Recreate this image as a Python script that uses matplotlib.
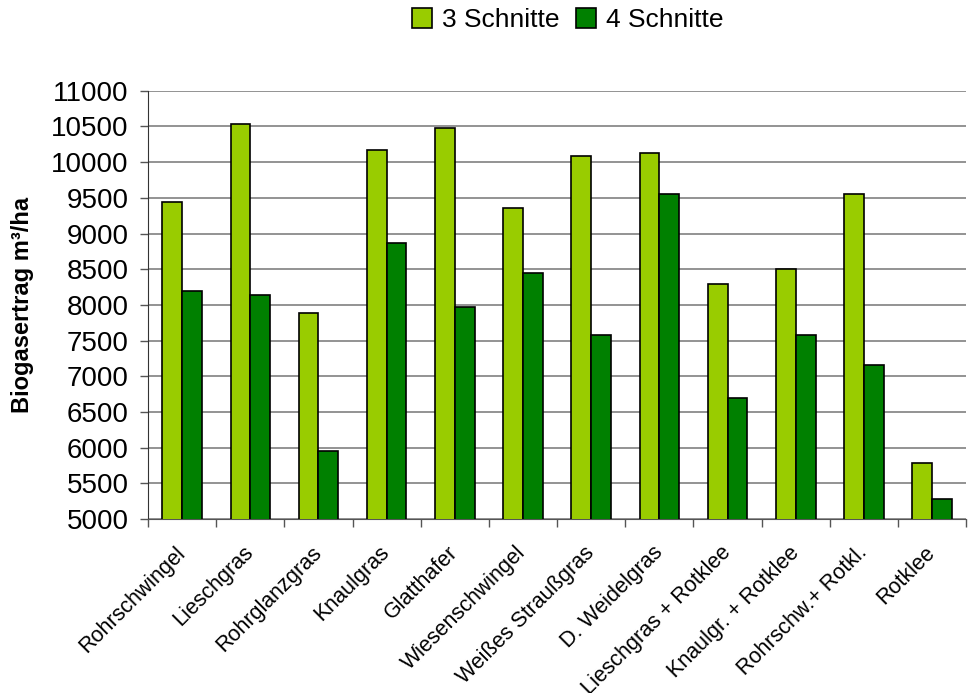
import matplotlib.pyplot as plt
import numpy as np

plt.rcParams['font.family'] = ['Liberation Sans', 'DejaVu Sans']

categories = ["Rohrschwingel", "Lieschgras", "Rohrglanzgras", "Knaulgras", "Glatthafer",
              "Wiesenschwingel", "Weißes Straußgras", "D. Weidelgras", "Lieschgras + Rotklee",
              "Knaulgr. + Rotklee", "Rohrschw.+ Rotkl.", "Rotklee"]
schnitte3 = [9440, 10530, 7890, 10170, 10480, 9360, 10080, 10130, 8290, 8510, 9550, 5790]
schnitte4 = [8200, 8140, 5950, 8870, 7970, 8450, 7580, 9550, 6690, 7580, 7160, 5280]

def main():
    fig = plt.figure(figsize=(9.74, 6.93), dpi=100)
    ax = fig.add_axes([0.152, 0.251, 0.840, 0.618])
    x = np.arange(len(categories))
    w = 0.29
    ax.bar(x - w / 2, schnitte3, w, color='#99cc00', edgecolor='black', linewidth=1.2,
           label='3 Schnitte', zorder=3)
    ax.bar(x + w / 2, schnitte4, w, color='#008000', edgecolor='black', linewidth=1.2,
           label='4 Schnitte', zorder=3)
    ax.set_ylim(5000, 11000)
    ax.set_xlim(-0.5, len(categories) - 0.5)
    ax.set_yticks(range(5000, 11001, 500))
    ax.yaxis.grid(True, color='#808080', linewidth=1.2, zorder=0)
    ax.tick_params(axis='y', labelsize=20, length=6, width=1, color='#555555', pad=8)
    ax.set_xticks(x)
    ax.set_xticklabels(categories, rotation=45, ha='right', va='center',
                       rotation_mode='anchor', fontsize=15.5)
    ax.set_xticks(np.arange(-0.5, len(categories), 1), minor=True)
    ax.tick_params(axis='x', which='major', length=0, pad=22)
    ax.tick_params(axis='x', which='minor', length=6, width=1, color='#555555')
    for s in ['top', 'right']:
        ax.spines[s].set_visible(False)
    ax.spines['left'].set_color('#333333')
    ax.spines['bottom'].set_color('#555555')
    ax.set_ylabel('Biogasertrag m³/ha', fontsize=17, fontweight='bold', labelpad=12)
    fig.legend(loc='center', bbox_to_anchor=(0.583, 0.971), ncol=2, frameon=False,
               fontsize=19, handlelength=0.75, handleheight=0.75, handletextpad=0.4,
               columnspacing=0.6, borderpad=0)
    plt.savefig('out.png')

if __name__ == "__main__":
    main()
